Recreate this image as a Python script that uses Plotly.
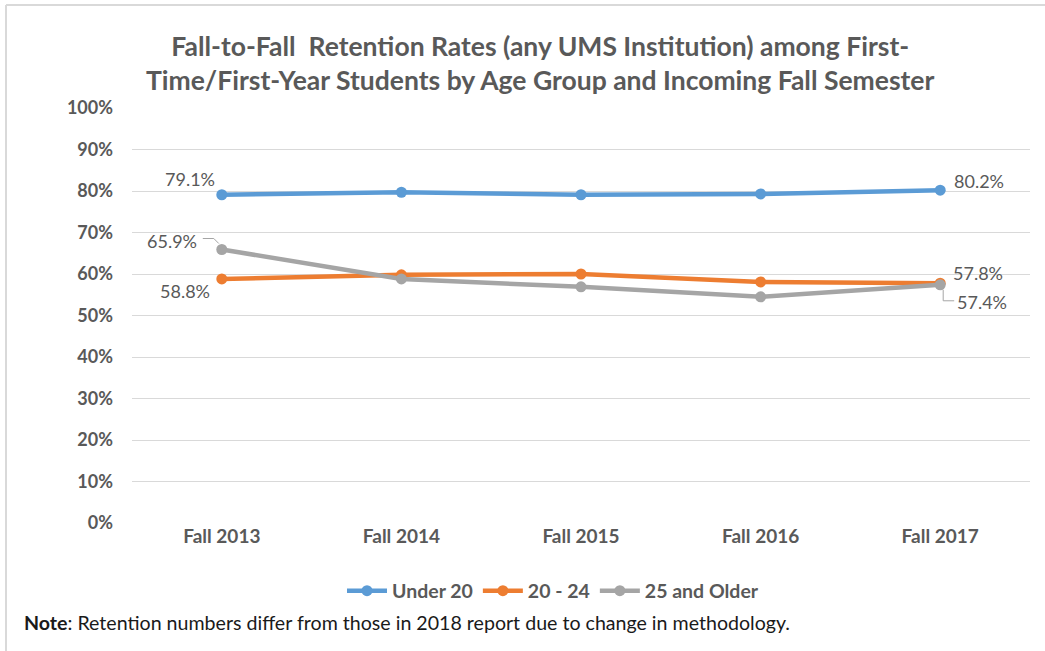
import plotly.graph_objects as go

categories = ["Fall 2013", "Fall 2014", "Fall 2015", "Fall 2016", "Fall 2017"]
under20 = [79.1, 79.7, 79.1, 79.3, 80.2]
age20_24 = [58.8, 59.8, 60.0, 58.1, 57.8]
age25plus = [65.9, 58.8, 56.9, 54.5, 57.4]
y_ticks = [0, 10, 20, 30, 40, 50, 60, 70, 80, 90, 100]

W, H = 1045, 651
L, R, T, B = 132, 15, 108, 128
PW, PH = W - L - R, H - T - B

def px(x):
    return (x - L) / PW

def py(y):
    return 1 - (y - T) / PH

BLUE, ORANGE, GRAY = "#5B9BD5", "#ED7D31", "#A5A5A5"
TXT = "#595959"
FONT = "Lato, 'Open Sans', sans-serif"

x = list(range(len(categories)))
fig = go.Figure()
for name, vals, col in [("Under 20", under20, BLUE), ("20 - 24", age20_24, ORANGE), ("25 and Older", age25plus, GRAY)]:
    fig.add_trace(go.Scatter(x=x, y=vals, name=f"<b>{name}</b>", mode="lines+markers",
                             line=dict(color=col, width=4.5),
                             marker=dict(color=col, size=11)))

def lab(xi, yv, text, xs, ys):
    fig.add_annotation(x=xi, y=yv, text=text, showarrow=False, xshift=xs, yshift=ys,
                       xanchor="center", yanchor="middle",
                       font=dict(family=FONT, size=18, color=TXT))

lab(0, under20[0], f"{under20[0]}%", -32, 16)
lab(4, under20[4], f"{under20[4]}%", 39, 9)
lab(0, age25plus[0], f"{age25plus[0]}%", -50, 9)
lab(0, age20_24[0], f"{age20_24[0]}%", -37, -12)
lab(4, age20_24[4], f"{age20_24[4]}%", 38, 10)
lab(4, age25plus[4], f"{age25plus[4]}%", 42, -17)

def leader(xi, yv, pts):
    x0p = L + (xi + 0.5) * PW / 5
    y0p = H - B - yv * PH / 100
    path = ""
    for k, (dx, dy) in enumerate(pts):
        path += ("M" if k == 0 else "L") + f" {px(x0p + dx)} {py(y0p + dy)} "
    fig.add_shape(type="path", path=path, xref="paper", yref="paper",
                  line=dict(color=GRAY, width=1))

leader(0, age25plus[0], [(-19, -11), (-8, -11), (-3, -6)])
leader(4, age25plus[4], [(3, 5), (3, 16), (14, 16)])

# frame lines
fig.add_shape(type="line", xref="paper", yref="paper", x0=px(6), x1=px(1045), y0=py(5), y1=py(5),
              line=dict(color="#D9D9D9", width=2))
fig.add_shape(type="line", xref="paper", yref="paper", x0=px(6), x1=px(6), y0=py(5), y1=py(651),
              line=dict(color="#D9D9D9", width=2))

fig.add_annotation(xref="paper", yref="paper", x=px(540), y=py(63), xanchor="center", yanchor="middle",
                   text="<b>Fall-to-Fall  Retention Rates (any UMS Institution) among First-<br>Time/First-Year Students by Age Group and Incoming Fall Semester</b>",
                   showarrow=False, font=dict(family=FONT, size=26.5, color=TXT), align="center")

fig.add_annotation(xref="paper", yref="paper", x=px(22), y=py(622), xanchor="left", yanchor="middle",
                   text="<b>Note</b>: Retention numbers differ from those in 2018 report due to change in methodology.",
                   showarrow=False, font=dict(family=FONT, size=19.6, color="#1a1a1a"))

fig.update_layout(
    width=W, height=H, margin=dict(l=L, r=R, t=T, b=B),
    plot_bgcolor="white", paper_bgcolor="white",
    font=dict(family=FONT, color=TXT),
    xaxis=dict(range=[-0.5, 4.5], tickvals=x, ticktext=[f"<b>{c}</b>" for c in categories],
               showgrid=False, zeroline=False, showline=False, ticks="",
               tickfont=dict(family=FONT, size=19, color=TXT)),
    yaxis=dict(range=[0, 100], tickvals=y_ticks, ticktext=[f"<b>{v}%</b>" for v in y_ticks],
               showgrid=True, gridcolor="#D9D9D9", gridwidth=1, zeroline=False, showline=False,
               ticks="", ticklabelstandoff=18,
               tickfont=dict(family=FONT, size=18, color=TXT)),
    legend=dict(orientation="h", x=px(553), xanchor="center", y=py(591), yanchor="middle",
                font=dict(family=FONT, size=19.5, color=TXT), itemwidth=40, traceorder="normal"),
    showlegend=True,
)

fig.write_html("out.html", config={"displayModeBar": False},
               post_script="document.body.style.margin='0';document.body.style.overflow='hidden';")
